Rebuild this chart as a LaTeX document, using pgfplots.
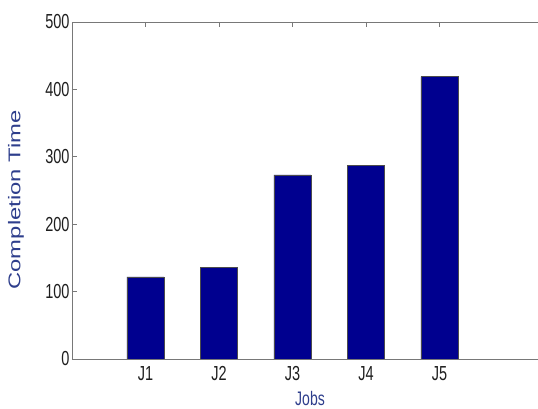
\documentclass[border=0pt]{standalone}
\usepackage{pgfplots}
\pgfplotsset{compat=1.18}
\usepackage{fontspec}
\setmainfont{Liberation Sans}
\definecolor{barblue}{RGB}{0,0,143}
\definecolor{labblue}{RGB}{46,62,140}
\definecolor{axgray}{RGB}{120,120,120}
\definecolor{tickgray}{RGB}{30,30,30}
\begin{document}
\begin{tikzpicture}
\begin{axis}[
  at={(0,0)}, anchor=south west,
  scale only axis,
  width=514.5pt, height=337pt,
  xmin=0, xmax=7, ymin=0, ymax=500,
  xtick={1,2,3,4,5},
  xticklabels={\scalebox{1}[1.4]{J1},\scalebox{1}[1.4]{J2},\scalebox{1}[1.4]{J3},\scalebox{1}[1.4]{J4},\scalebox{1}[1.4]{J5}},
  ytick={0,100,200,300,400,500},
  yticklabel={\scalebox{1}[1.4]{\pgfmathprintnumber{\tick}}},
  /pgf/number format/assume math mode=true,
  tick align=inside,
  major tick length=5pt,
  tick style={axgray, line width=0.8pt},
  axis line style={draw=none},
  ticklabel style={font=\fontsize{14.5}{16}\selectfont, text=tickgray},
  xticklabel style={yshift=-4pt},
  yticklabel style={xshift=1pt},
  xlabel={\scalebox{1}[1.4]{Jobs}},
  xlabel style={font=\fontsize{14}{16}\selectfont, text=labblue, at={(axis description cs:0.4626,0)}, anchor=north, yshift=-29pt},
  ylabel={\scalebox{1.4}[1]{Completion Time}},
  ylabel style={font=\fontsize{17}{19}\selectfont, text=labblue, at={(axis description cs:0,0.472)}, anchor=center, rotate=0, yshift=56pt},
  clip=false,
]
\addplot[ybar, bar width=37pt, fill=barblue, draw=black!70, line width=0.4pt] coordinates {(1,122) (2,136) (3,273) (4,287) (5,419)};
\draw[axgray, line width=0.8pt] (axis description cs:1,1) -- (axis description cs:0,1) -- (axis description cs:0,0) -- (axis description cs:1,0);
\end{axis}
\pgfresetboundingbox
\path[use as bounding box] (-72pt,-50pt) rectangle (466pt,359pt);
\end{tikzpicture}
\end{document}
